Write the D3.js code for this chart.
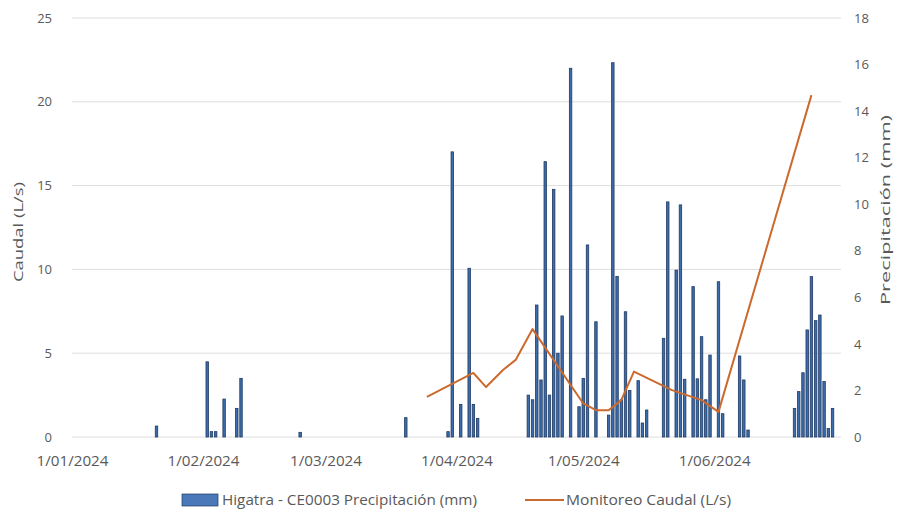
<!DOCTYPE html>
<html>
<head>
<meta charset="utf-8">
<script src="https://cdn.jsdelivr.net/npm/d3@7"></script>
<style>
  html, body { margin: 0; padding: 0; background: #ffffff; }
  svg { display: block; }
  text { font-family: "Open Sans", "Liberation Sans", sans-serif; fill: #595959; }
</style>
</head>
<body>
<svg id="chart" width="899" height="513"></svg>
<script>
// ---- Data ----
const precipDates = [
  "2024-01-21","2024-02-02","2024-02-03","2024-02-04","2024-02-06","2024-02-09","2024-02-10","2024-02-24",
  "2024-03-20","2024-03-30","2024-03-31","2024-04-02","2024-04-04","2024-04-05","2024-04-06",
  "2024-04-18","2024-04-19","2024-04-20","2024-04-21","2024-04-22","2024-04-23","2024-04-24","2024-04-25","2024-04-26",
  "2024-04-28","2024-04-30","2024-05-01","2024-05-02","2024-05-04","2024-05-07","2024-05-08","2024-05-09","2024-05-10",
  "2024-05-11","2024-05-12","2024-05-14","2024-05-15","2024-05-16","2024-05-20","2024-05-21","2024-05-23","2024-05-24",
  "2024-05-25","2024-05-27","2024-05-28","2024-05-29","2024-05-30","2024-05-31","2024-06-02","2024-06-03",
  "2024-06-07","2024-06-08","2024-06-09",
  "2024-06-20","2024-06-21","2024-06-22","2024-06-23","2024-06-24","2024-06-25","2024-06-26","2024-06-27","2024-06-28","2024-06-29"
];
const precipValues = [
  0.47, 3.23, 0.23, 0.23, 1.63, 1.23, 2.52, 0.2,
  0.83, 0.23, 12.25, 1.4, 7.25, 1.4, 0.8,
  1.8, 1.6, 5.67, 2.45, 11.83, 1.8, 10.64, 3.6, 5.2,
  15.84, 1.3, 2.52, 8.25, 4.95, 0.94, 16.08, 6.9, 1.6,
  5.38, 2.0, 2.42, 0.6, 1.16, 4.24, 10.1, 7.17, 9.97,
  2.48, 6.46, 2.5, 4.31, 1.6, 3.52, 6.67, 1.0,
  3.48, 2.45, 0.3,
  1.23, 1.95, 2.76, 4.6, 6.89, 5.0, 5.24, 2.38, 0.37, 1.23
];
const caudalDates = [
  "2024-03-25","2024-04-05","2024-04-08","2024-04-12","2024-04-15","2024-04-19",
  "2024-05-01","2024-05-04","2024-05-07","2024-05-10","2024-05-13","2024-05-22",
  "2024-05-29","2024-06-02","2024-06-24"
];
const caudalValues = [
  2.39, 3.82, 2.98, 4.0, 4.6, 6.44,
  2.0, 1.6, 1.6, 2.2, 3.9, 2.8,
  2.2, 1.5, 20.4
];
const monthTicks = ["2024-01-01","2024-02-01","2024-03-01","2024-04-01","2024-05-01","2024-06-01"];
const leftTicks = [0, 5, 10, 15, 20, 25];
const rightTicks = [0, 2, 4, 6, 8, 10, 12, 14, 16, 18];
const precipLabel = "Higatra - CE0003 Precipitación (mm)";
const caudalLabel = "Monitoreo Caudal (L/s)";
const leftTitle = "Caudal (L/s)";
const rightTitle = "Precipitación (mm)";

// ---- Build ----
const parse = d3.timeParse("%Y-%m-%d");
const precip = precipDates.map((d, i) => ({ date: parse(d), value: precipValues[i] }));
const caudal = caudalDates.map((d, i) => ({ date: parse(d), value: caudalValues[i] }));

const svg = d3.select("#chart");
const plot = { left: 72, right: 841, top: 18, bottom: 437 };

const x = d3.scaleTime()
  .domain([parse("2024-01-01"), parse("2024-07-01")])
  .range([plot.left, plot.right]);
const yL = d3.scaleLinear().domain([0, 25]).range([plot.bottom, plot.top]);
const yR = d3.scaleLinear().domain([0, 18]).range([plot.bottom, plot.top]);

const dayPx = x(parse("2024-01-02")) - x(parse("2024-01-01"));
const barW = dayPx * 0.58;

const FONT = '"Open Sans", sans-serif';

// gridlines
svg.append("g").selectAll("line").data(leftTicks).join("line")
  .attr("x1", plot.left).attr("x2", plot.right)
  .attr("y1", d => yL(d)).attr("y2", d => yL(d))
  .attr("stroke", "#dedede").attr("stroke-width", 1);

// left axis labels
const gL = svg.append("g")
  .attr("transform", `translate(${plot.left - 20},0)`)
  .call(d3.axisLeft(yL).tickValues(leftTicks).tickSize(0).tickPadding(0));
gL.select(".domain").remove();
gL.selectAll("text").attr("font-size", 13).attr("fill", "#595959").style("font-family", FONT);

// right axis labels
const gR = svg.append("g")
  .attr("transform", `translate(${plot.right + 13},0)`)
  .call(d3.axisRight(yR).tickValues(rightTicks).tickSize(0).tickPadding(0));
gR.select(".domain").remove();
gR.selectAll("text").attr("font-size", 13).attr("fill", "#595959").style("font-family", FONT);

// x axis labels
const fmt = d => `${d.getDate()}/${String(d.getMonth() + 1).padStart(2, "0")}/${d.getFullYear()}`;
const gX = svg.append("g")
  .attr("transform", `translate(0,${plot.bottom + 19})`)
  .call(d3.axisBottom(x).tickValues(monthTicks.map(parse)).tickFormat(fmt).tickSize(0).tickPadding(0));
gX.select(".domain").remove();
gX.selectAll("text").attr("font-size", 14).attr("fill", "#595959").style("font-family", FONT)
  .attr("textLength", 72).attr("lengthAdjust", "spacingAndGlyphs");

// bars
svg.append("g").selectAll("rect").data(precip).join("rect")
  .attr("x", d => x(d.date) - barW / 2)
  .attr("width", barW)
  .attr("y", d => yR(d.value))
  .attr("height", d => plot.bottom - yR(d.value))
  .attr("fill", "#3d6cab")
  .attr("stroke", "#1f3a63")
  .attr("stroke-width", 0.8);

// line
const line = d3.line().x(d => x(d.date)).y(d => yL(d.value));
svg.append("path").datum(caudal)
  .attr("d", line)
  .attr("fill", "none")
  .attr("stroke", "#cc6a2e")
  .attr("stroke-width", 2)
  .attr("stroke-linejoin", "round");

// axis titles
svg.append("text")
  .attr("transform", `translate(23,232) rotate(-90)`)
  .attr("text-anchor", "middle")
  .attr("font-size", 13)
  .attr("textLength", 100).attr("lengthAdjust", "spacingAndGlyphs")
  .text(leftTitle);
svg.append("text")
  .attr("transform", `translate(890,210) rotate(-90)`)
  .attr("text-anchor", "middle")
  .attr("font-size", 12.5)
  .attr("textLength", 190).attr("lengthAdjust", "spacingAndGlyphs")
  .text(rightTitle);

// legend
const lg = svg.append("g");
lg.append("rect").attr("x", 182).attr("y", 494).attr("width", 36).attr("height", 12)
  .attr("fill", "#4a78b8").attr("stroke", "#1f3a63").attr("stroke-width", 0.7);
lg.append("text").attr("x", 222).attr("y", 505).attr("font-size", 14)
  .attr("textLength", 255).attr("lengthAdjust", "spacingAndGlyphs").text(precipLabel);
lg.append("line").attr("x1", 525).attr("x2", 564).attr("y1", 500).attr("y2", 500)
  .attr("stroke", "#cc6a2e").attr("stroke-width", 2);
lg.append("text").attr("x", 566).attr("y", 505).attr("font-size", 14)
  .attr("textLength", 165).attr("lengthAdjust", "spacingAndGlyphs").text(caudalLabel);
</script>
</body>
</html>
